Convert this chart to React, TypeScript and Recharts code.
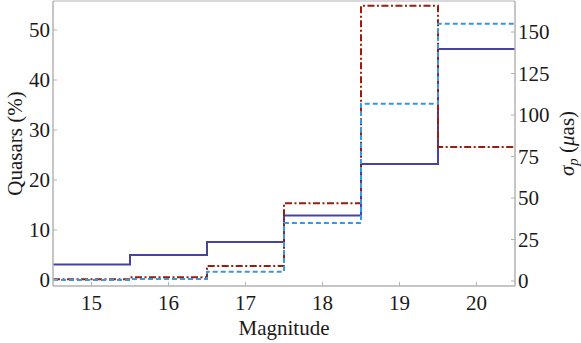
import React from 'react';
import { LineChart, Line, XAxis, YAxis, Label } from 'recharts';

const binEdges = [14.5, 15.5, 16.5, 17.5, 18.5, 19.5, 20.5];
const quasarPercent = [3.1, 5.0, 7.6, 12.9, 23.2, 46.2];
const sigmaDashed = [0.6, 1.2, 5.6, 35, 106.8, 155];
const sigmaDashDot = [1.0, 2.2, 9.0, 46.8, 165.8, 80.7];
const xTicks = [15, 16, 17, 18, 19, 20];
const leftTicks = [0, 10, 20, 30, 40, 50];
const rightTicks = [0, 25, 50, 75, 100, 125, 150];

const data = binEdges.map((m, i) => {
  const j = Math.min(i, quasarPercent.length - 1);
  return { mag: m, q: quasarPercent[j], d: sigmaDashed[j], dd: sigmaDashDot[j] };
});

const FONT = 'Liberation Serif';
const FS = 21;
const AXIS = '#b3b3b3';
const TXT = '#1a1a1a';

const LeftTick = (p: any) => (
  <g>
    <line x1={p.x} x2={p.x + 4} y1={p.y} y2={p.y} stroke={AXIS} strokeWidth={1} />
    <text x={p.x - 3} y={p.y} dy="0.35em" textAnchor="end" fontFamily={FONT} fontSize={FS} fill={TXT}>
      {p.payload.value}
    </text>
  </g>
);

const RightTick = (p: any) => (
  <g>
    <line x1={p.x} x2={p.x - 4} y1={p.y} y2={p.y} stroke={AXIS} strokeWidth={1} />
    <text x={p.x + 3} y={p.y} dy="0.35em" textAnchor="start" fontFamily={FONT} fontSize={FS} fill={TXT}>
      {p.payload.value}
    </text>
  </g>
);

const BottomTick = (p: any) => (
  <g>
    <line x1={p.x} x2={p.x} y1={p.y} y2={p.y - 4} stroke={AXIS} strokeWidth={1} />
    <text x={p.x} y={p.y + 17} dy="0.35em" textAnchor="middle" fontFamily={FONT} fontSize={FS} fill={TXT}>
      {p.payload.value}
    </text>
  </g>
);

const LeftLabel = (p: any) => {
  const vb = p.viewBox;
  const cx = 15;
  const cy = vb.y + vb.height / 2;
  return (
    <text x={cx} y={cy} dy="0.35em" textAnchor="middle" transform={`rotate(-90 ${cx} ${cy})`} fontFamily={FONT} fontSize={FS} fill={TXT}>
      Quasars (%)
    </text>
  );
};

const RightLabel = (p: any) => {
  const vb = p.viewBox;
  const cx = vb.x + 52;
  const cy = vb.y + vb.height / 2;
  return (
    <text x={cx} y={cy} dy="0.35em" textAnchor="middle" transform={`rotate(-90 ${cx} ${cy})`} fontFamily={FONT} fontSize={FS} fill={TXT}>
      <tspan fontStyle="italic">σ</tspan>
      <tspan fontStyle="italic" fontSize={15} dy="4">p</tspan>
      <tspan dy="-4"> (</tspan>
      <tspan fontStyle="italic">μ</tspan>
      <tspan>as)</tspan>
    </text>
  );
};

const BottomLabel = (p: any) => {
  const vb = p.viewBox;
  const cx = vb.x + vb.width / 2;
  return (
    <text x={cx} y={335} textAnchor="middle" fontFamily={FONT} fontSize={FS} fill={TXT}>
      Magnitude
    </text>
  );
};

export default function App() {
  return (
    <div style={{ position: 'absolute', left: 0, top: 0, background: '#fff' }}>
      <LineChart width={581} height={343} data={data} margin={{ top: 0, right: 0, bottom: 0, left: 0 }}>
        <XAxis
          xAxisId="top"
          orientation="top"
          dataKey="mag"
          type="number"
          domain={[14.5, 20.5]}
          allowDataOverflow
          height={1}
          tick={false}
          tickLine={false}
          axisLine={{ stroke: AXIS, strokeWidth: 1 }}
        />
        <XAxis
          xAxisId="bottom"
          dataKey="mag"
          type="number"
          domain={[14.5, 20.5]}
          allowDataOverflow
          ticks={xTicks}
          height={57}
          tickSize={0}
          tickMargin={0}
          tickLine={false}
          tick={BottomTick}
          axisLine={{ stroke: AXIS, strokeWidth: 1.5 }}
        >
          <Label content={BottomLabel} />
        </XAxis>
        <YAxis
          yAxisId="left"
          orientation="left"
          type="number"
          domain={[-1.2, 55.8]}
          allowDataOverflow
          ticks={leftTicks}
          width={53}
          tickSize={0}
          tickMargin={0}
          tickLine={false}
          tick={LeftTick}
          axisLine={{ stroke: AXIS, strokeWidth: 1.5 }}
        >
          <Label content={LeftLabel} />
        </YAxis>
        <YAxis
          yAxisId="right"
          orientation="right"
          type="number"
          domain={[-3, 168.7]}
          allowDataOverflow
          ticks={rightTicks}
          width={66}
          tickSize={0}
          tickMargin={0}
          tickLine={false}
          tick={RightTick}
          axisLine={{ stroke: AXIS, strokeWidth: 1.5 }}
        >
          <Label content={RightLabel} />
        </YAxis>
        <Line
          xAxisId="bottom"
          yAxisId="left"
          type="stepAfter"
          dataKey="q"
          stroke="#4842a6"
          strokeWidth={2}
          dot={false}
          isAnimationActive={false}
        />
        <Line
          xAxisId="bottom"
          yAxisId="right"
          type="stepAfter"
          dataKey="dd"
          stroke="#9a1c0c"
          strokeWidth={2}
          strokeDasharray="7 2.5 2 2.5"
          dot={false}
          isAnimationActive={false}
        />
        <Line
          xAxisId="bottom"
          yAxisId="right"
          type="stepAfter"
          dataKey="d"
          stroke="#3a98e0"
          strokeWidth={2}
          strokeDasharray="5 3"
          dot={false}
          isAnimationActive={false}
        />
      </LineChart>
    </div>
  );
}
